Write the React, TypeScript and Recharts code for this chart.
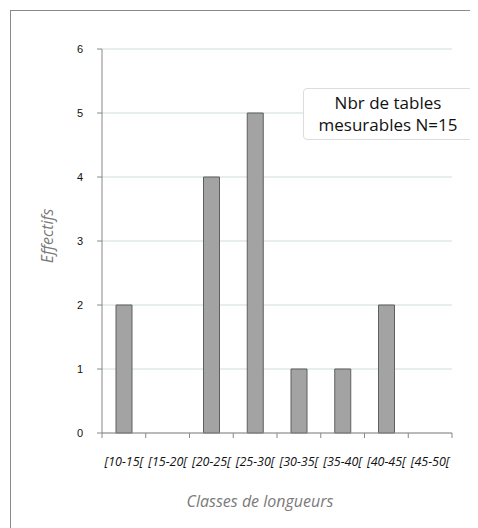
import React from "react";
import { BarChart, Bar, XAxis, YAxis, CartesianGrid } from "recharts";

const categories = ["[10-15[", "[15-20[", "[20-25[", "[25-30[", "[30-35[", "[35-40[", "[40-45[", "[45-50["];
const effectifs = [2, 0, 4, 5, 1, 1, 2, 0];
const yTicks = [0, 1, 2, 3, 4, 5, 6];
const xTitle = "Classes de longueurs";
const yTitle = "Effectifs";
const noteLines = ["Nbr de tables", "mesurables N=15"];

const data = categories.map((c, i) => ({ classe: c, n: effectifs[i] }));

const XTick = (props: any) => {
  const { x, y, payload, index, visibleTicksCount } = props;
  const half = payload && payload.offset ? payload.offset : 21.875;
  const last = index === (visibleTicksCount ?? categories.length) - 1;
  return (
    <g>
      <line x1={x - half} x2={x - half} y1={y} y2={y + 5} stroke="#888" strokeWidth={1} />
      {last && <line x1={x + half} x2={x + half} y1={y} y2={y + 5} stroke="#888" strokeWidth={1} />}
      <text
        x={x}
        y={y + 33}
        textAnchor="middle"
        fontFamily="'Open Sans', sans-serif"
        fontStyle="italic"
        fontSize={12.5}
        fill="#111"
      >
        {payload.value}
      </text>
    </g>
  );
};

export default function App() {
  return (
    <div style={{ position: "relative", width: 478, height: 528, margin: "-8px 0 0 -8px", background: "#fff" }}>
      <div
        style={{
          position: "absolute",
          left: 10,
          top: 10,
          width: 470,
          height: 520,
          borderLeft: "1.5px solid #8a8a8a",
          borderTop: "1.5px solid #8a8a8a",
          boxSizing: "border-box",
        }}
      />
      <div style={{ position: "absolute", left: 0, top: 0 }}>
        <BarChart
          width={478}
          height={528}
          data={data}
          margin={{ top: 49, right: 26, bottom: 65, left: 62 }}
        >
          <CartesianGrid vertical={false} stroke="#cddcdd" strokeWidth={1} />
          <XAxis
            dataKey="classe"
            height={30}
            tickLine={false}
            tickSize={0}
            tickMargin={0}
            axisLine={{ stroke: "#888", strokeWidth: 1 }}
            tick={<XTick />}
            interval={0}
          />
          <YAxis
            width={40}
            domain={[0, 6]}
            ticks={yTicks}
            interval={0}
            axisLine={{ stroke: "#888", strokeWidth: 1 }}
            tickLine={{ stroke: "#888" }}
            tickSize={5}
            tickMargin={14}
            tick={{ fontFamily: "Arial, 'Liberation Sans', sans-serif", fontSize: 11, fill: "#111" }}
          />
          <YAxis
            yAxisId="right"
            orientation="right"
            width={0}
            domain={[0, 6]}
            tick={false}
            tickLine={false}
            axisLine={{ stroke: "#cddcdd", strokeWidth: 1 }}
          />
          <Bar dataKey="n" barSize={16} fill="#a3a3a3" stroke="#5f5f5f" strokeWidth={1} isAnimationActive={false} />
        </BarChart>
      </div>
      <div
        style={{
          position: "absolute",
          left: 180,
          top: 490,
          width: 160,
          textAlign: "center",
          fontFamily: "'Open Sans', sans-serif",
          fontStyle: "italic",
          fontSize: 16,
          color: "#7a7a7a",
          whiteSpace: "nowrap",
          lineHeight: "22px",
        }}
      >
        {xTitle}
      </div>
      <div
        style={{
          position: "absolute",
          left: 47,
          top: 236,
          transform: "translate(-50%, -50%) rotate(-90deg)",
          fontFamily: "'Open Sans', sans-serif",
          fontStyle: "italic",
          fontSize: 16,
          color: "#7a7a7a",
          whiteSpace: "nowrap",
          lineHeight: "22px",
        }}
      >
        {yTitle}
      </div>
      <div
        style={{
          position: "absolute",
          left: 303,
          top: 88,
          width: 170,
          height: 52,
          boxSizing: "border-box",
          border: "1px solid #dcdcdc",
          borderRadius: 4,
          background: "#fff",
          display: "flex",
          flexDirection: "column",
          justifyContent: "center",
          alignItems: "center",
          fontFamily: "'Open Sans', sans-serif",
          fontSize: 17,
          lineHeight: "22px",
          color: "#111",
        }}
      >
        {noteLines.map((l) => (
          <div key={l}>{l}</div>
        ))}
      </div>
    </div>
  );
}
